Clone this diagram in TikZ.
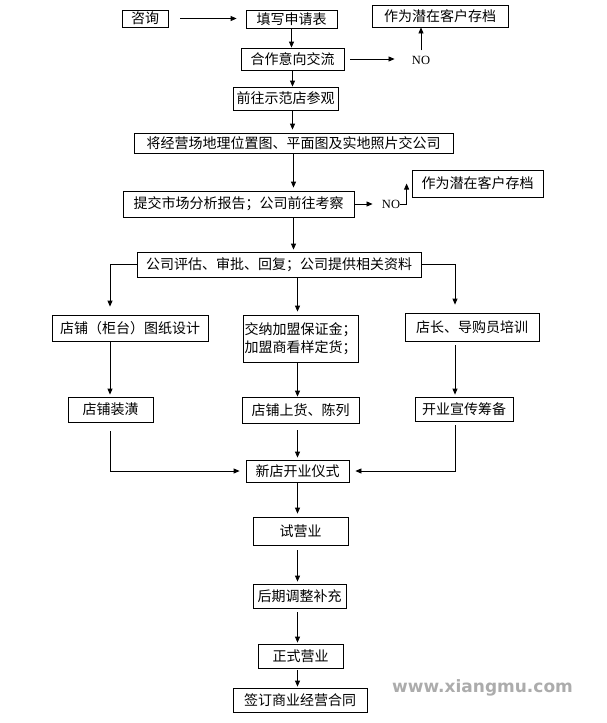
\documentclass[tikz,border=0pt]{standalone}
\usepackage{fontspec}
\setmainfont{Liberation Serif}
\newfontfamily\cjk{Noto Sans CJK SC}
\newfontfamily\wmfont{DejaVu Sans}
\usetikzlibrary{arrows.meta}
\tikzset{
	box/.style={draw, rectangle, inner sep=0pt, align=center, font=\cjk\fontsize{14}{18}\selectfont},
	notext/.style={inner sep=0pt, font=\fontsize{12.5}{14}\selectfont},
	arr/.style={-{Triangle[length=6pt,width=5pt]}},
}
\begin{document}
\begin{tikzpicture}[x=1pt, y=-1pt, line width=0.8pt]
	\useasboundingbox (0,0) rectangle (606,723);
	\node[box, minimum width=46pt, minimum height=17pt] (zixun) at (145,18.5) {咨询};
	\node[box, minimum width=91pt, minimum height=18pt] (tianxie) at (291.5,19) {填写申请表};
	\node[box, minimum width=136pt, minimum height=22pt] (dangan1) at (440,16) {作为潜在客户存档};
	\node[box, minimum width=103pt, minimum height=22pt] (hezuo) at (292.5,59) {合作意向交流};
	\node[notext] (no1) at (421,60) {NO};
	\node[box, minimum width=105pt, minimum height=23pt] (qianwang) at (285.5,98.5) {前往示范店参观};
	\node[box, minimum width=319pt, minimum height=20pt] (jiang) at (293.5,143) {将经营场地理位置图、平面图及实地照片交公司};
	\node[box, minimum width=231pt, minimum height=26pt] (tijiao) at (238.5,204) {提交市场分析报告；公司前往考察};
	\node[notext] (no2) at (391,204) {NO};
	\node[box, minimum width=131pt, minimum height=27pt] (dangan2) at (477.5,183.5) {作为潜在客户存档};
	\node[box, minimum width=284pt, minimum height=25pt] (pinggu) at (279,264.5) {公司评估、审批、回复；公司提供相关资料};
	\node[box, minimum width=156pt, minimum height=26pt] (tuzhi) at (130,328) {店铺（柜台）图纸设计};
	\node[box, minimum width=115pt, minimum height=47pt] (jiaona) at (300.5,338.5) {交纳加盟保证金；\\加盟商看样定货；};
	\node[box, minimum width=134pt, minimum height=28pt] (peixun) at (472,327) {店长、导购员培训};
	\node[box, minimum width=85pt, minimum height=25pt] (zhuanghuang) at (110.5,409.5) {店铺装潢};
	\node[box, minimum width=117pt, minimum height=26pt] (shanghuo) at (300.5,410) {店铺上货、陈列};
	\node[box, minimum width=98pt, minimum height=24pt] (xuanchuan) at (464,409) {开业宣传筹备};
	\node[box, minimum width=103pt, minimum height=22pt] (kaiye) at (297.5,471) {新店开业仪式};
	\node[box, minimum width=95pt, minimum height=28pt] (shiying) at (300.5,531) {试营业};
	\node[box, minimum width=93pt, minimum height=24pt] (houqi) at (299.5,596) {后期调整补充};
	\node[box, minimum width=85pt, minimum height=24pt] (zhengshi) at (300.5,656) {正式营业};
	\node[box, minimum width=134pt, minimum height=24pt] (qianding) at (300,700) {签订商业经营合同};
	\node[font=\wmfont\bfseries\fontsize{17}{17}\selectfont, text=gray!65] (wm) at (482.5,688) {www.xiangmu.com};
	\coordinate (lturn) at (110,264.5);
	\coordinate (rturn) at (455,264.5);
	\draw[arr, shorten <=12pt, shorten >=9pt] (zixun.east) -- (zixun.east -| tianxie.west);
	\draw[arr] (tianxie.south) -- (tianxie.south |- hezuo.north);
	\draw[arr, shorten <=6pt, shorten >=17pt] (hezuo.east) -- (hezuo.east -| no1.west);
	\draw[arr, shorten <=5pt] (no1.north) -- (no1.north |- dangan1.south);
	\draw[arr] (hezuo.south) -- (hezuo.south |- qianwang.north);
	\draw[arr, shorten >=3pt] (qianwang.south -| hezuo) -- (hezuo |- jiang.north);
	\draw[arr, shorten >=3pt] (jiang.south) -- (jiang.south |- tijiao.north);
	\draw[arr, shorten <=1pt, shorten >=9pt] (tijiao.east) -- (tijiao.east -| no2.west);
	\draw[arr] (no2.east) -| ([xshift=-5pt]dangan2.west);
	\draw[arr, shorten >=2pt] (jiang.south |- tijiao.south) -- (jiang.south |- pinggu.north);
	\draw[arr, shorten >=8pt] (pinggu.west) -- (lturn) -- (lturn |- tuzhi.north);
	\draw[arr, shorten >=8pt] (pinggu.east) -- (rturn) -- (rturn |- peixun.north);
	\draw[arr, shorten >=3pt] (pinggu.south -| kaiye) -- (kaiye |- jiaona.north);
	\draw[arr, shorten >=2pt] (lturn |- tuzhi.south) -- (lturn |- zhuanghuang.north);
	\draw[arr] (kaiye |- jiaona.south) -- (kaiye |- shanghuo.north);
	\draw[arr, shorten <=4pt, shorten >=2pt] (rturn |- peixun.south) -- (rturn |- xuanchuan.north);
	\draw[arr, shorten <=9pt, shorten >=6pt] (lturn |- zhuanghuang.south) -- (lturn |- kaiye) -- (kaiye.west);
	\draw[arr, shorten <=4pt, shorten >=6pt] (rturn |- xuanchuan.south) -- (rturn |- kaiye) -- (kaiye.east);
	\draw[arr, shorten <=7pt, shorten >=2pt] (kaiye |- shanghuo.south) -- (kaiye.north);
	\draw[arr, shorten >=3pt] (kaiye.south) -- (kaiye.south |- shiying.north);
	\draw[arr, shorten <=5pt, shorten >=2pt] (kaiye |- shiying.south) -- (kaiye |- houqi.north);
	\draw[arr, shorten <=4pt, shorten >=1pt] (kaiye |- houqi.south) -- (kaiye |- zhengshi.north);
	\draw[arr, shorten <=2pt, shorten >=1pt] (kaiye |- zhengshi.south) -- (kaiye |- qianding.north);
\end{tikzpicture}
\end{document}
